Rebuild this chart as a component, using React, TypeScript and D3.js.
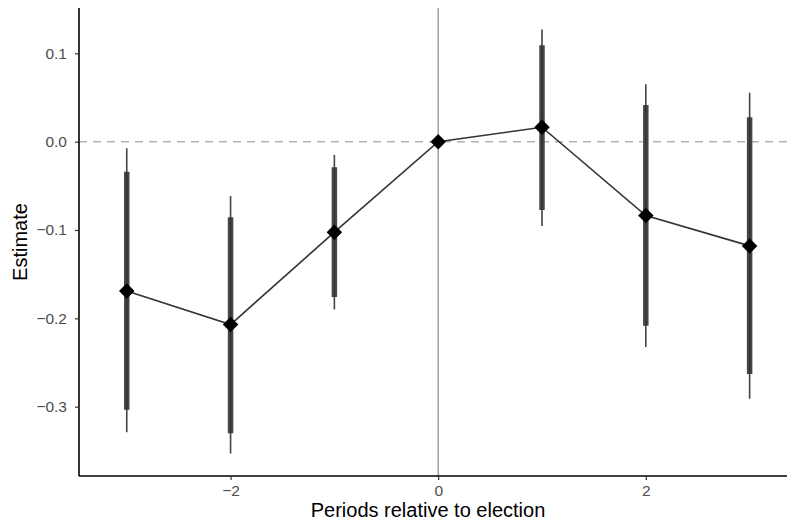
import { useRef, useEffect } from "react";
import * as d3 from "d3";

const periods = [-3, -2, -1, 0, 1, 2, 3];
const estimates = [-0.169, -0.207, -0.1025, 0, 0.0163, -0.0837, -0.118];
const ci95Low = [-0.329, -0.353, -0.19, 0, -0.0954, -0.2326, -0.291];
const ci95High = [-0.0075, -0.0614, -0.015, 0, 0.127, 0.065, 0.0554];
const ci90Low = [-0.3035, -0.33, -0.176, 0, -0.0773, -0.2085, -0.263];
const ci90High = [-0.034, -0.0855, -0.029, 0, 0.109, 0.0415, 0.0276];
const xTicks = [-2, 0, 2];
const yTicks = [-0.3, -0.2, -0.1, 0, 0.1];

const FONT = "Liberation Sans, Arial, Helvetica, sans-serif";

export default function App() {
  const svgRef = useRef<SVGSVGElement>(null);

  useEffect(() => {
    if (!svgRef.current) return;
    const svg = d3.select(svgRef.current);
    svg.selectAll("*").remove();

    const left = 79, right = 787, top = 8, bottom = 476;
    const x = d3.scaleLinear().domain([-3.46, 3.36]).range([left, right]);
    const y = d3.scaleLinear().domain([-0.3785, 0.1513]).range([bottom, top]);

    const data = periods.map((p, i) => ({
      p, est: estimates[i], lo95: ci95Low[i], hi95: ci95High[i], lo90: ci90Low[i], hi90: ci90High[i],
    }));

    const g = svg.append("g");

    // reference lines
    g.append("line")
      .attr("x1", left).attr("x2", right)
      .attr("y1", y(0)).attr("y2", y(0))
      .attr("stroke", "#b3b3b3").attr("stroke-width", 1.5)
      .attr("stroke-dasharray", "8,6");
    g.append("line")
      .attr("x1", x(0)).attr("x2", x(0))
      .attr("y1", top).attr("y2", bottom)
      .attr("stroke", "#a0a0a0").attr("stroke-width", 1.5);

    // thin 95% intervals
    g.selectAll(".ci95").data(data.filter((d) => d.p !== 0)).enter().append("line")
      .attr("x1", (d) => x(d.p)).attr("x2", (d) => x(d.p))
      .attr("y1", (d) => y(d.lo95)).attr("y2", (d) => y(d.hi95))
      .attr("stroke", "#444").attr("stroke-width", 1.6);

    // thick 90% intervals
    g.selectAll(".ci90").data(data.filter((d) => d.p !== 0)).enter().append("line")
      .attr("x1", (d) => x(d.p)).attr("x2", (d) => x(d.p))
      .attr("y1", (d) => y(d.lo90)).attr("y2", (d) => y(d.hi90))
      .attr("stroke", "#333").attr("stroke-opacity", 0.9).attr("stroke-width", 5.5);

    // connecting line
    const line = d3.line<typeof data[0]>().x((d) => x(d.p)).y((d) => y(d.est));
    g.append("path").datum(data)
      .attr("fill", "none").attr("stroke", "#333").attr("stroke-width", 1.6)
      .attr("d", line);

    // diamonds
    const sym = d3.symbol().type(d3.symbolSquare).size(120);
    g.selectAll(".pt").data(data).enter().append("path")
      .attr("d", sym)
      .attr("transform", (d) => `translate(${x(d.p)},${y(d.est)}) rotate(45)`)
      .attr("fill", "#000");

    // axes
    const fmtY = d3.format(".1f");
    const ya = svg.append("g").attr("transform", `translate(${left},0)`)
      .call(d3.axisLeft(y).tickValues(yTicks).tickSize(4).tickPadding(8).tickFormat((d) => fmtY(d as number)));
    const xa = svg.append("g").attr("transform", `translate(0,${bottom})`)
      .call(d3.axisBottom(x).tickValues(xTicks).tickSize(4).tickPadding(5).tickFormat(d3.format("d") as any));
    [ya, xa].forEach((a) => {
      a.attr("font-size", null).attr("font-family", null);
      a.select(".domain").attr("stroke", "#000").attr("stroke-width", 1.6);
      a.selectAll(".tick line").attr("stroke", "#333").attr("stroke-width", 1.2);
      a.selectAll(".tick text").attr("fill", "#4d4d4d")
        .style("font-size", "15.5px").style("font-family", FONT);
    });
    ya.select(".domain").attr("d", `M0,${bottom}V${top}`);
    xa.select(".domain").attr("d", `M${left},0H${right}`);

    svg.append("text")
      .attr("x", (left + right) / 2 - 5).attr("y", 517)
      .attr("text-anchor", "middle")
      .style("font-size", "20px").style("font-family", FONT)
      .text("Periods relative to election");
    svg.append("text")
      .attr("transform", `translate(27,${(top + bottom) / 2}) rotate(-90)`)
      .attr("text-anchor", "middle")
      .style("font-size", "20px").style("font-family", FONT)
      .text("Estimate");
  }, []);

  return (
    <svg ref={svgRef} width={787} height={526}
      style={{ position: "absolute", left: 0, top: 0, background: "#fff" }} />
  );
}
